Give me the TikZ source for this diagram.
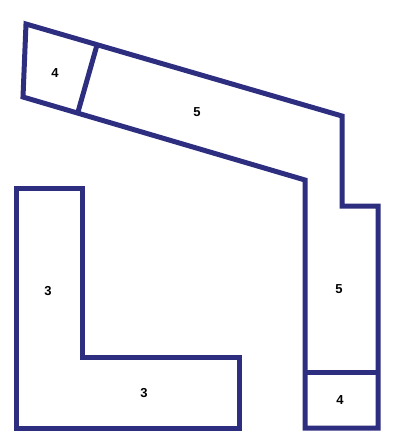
\documentclass[tikz,border=0pt]{standalone}
\usepackage{fontspec}
\setmainfont{Liberation Sans}
\definecolor{navy}{RGB}{46,46,128}
\tikzset{
  wall/.style={draw=navy, line width=5pt, line join=miter},
  num/.style={font=\bfseries\fontsize{13}{15}\selectfont, text=black}
}
\begin{document}
\begin{tikzpicture}[x=1pt,y=-1pt]
    \useasboundingbox (0,0) rectangle (402,448);

    \draw[wall] (26,24) -- (342,116) -- (342,206) -- (378,206) -- (378,428)
        -- (305,428) -- (305,180) -- (23,97) -- cycle;
    \draw[wall] (97,45) -- (78,112);
    \draw[wall] (305,372) -- (378,372);

    \draw[wall] (16,188) -- (82,188) -- (82,357) -- (239,357) -- (239,428)
        -- (16,428) -- cycle;

    \node[num] (a4) at (55,73) {4};
    \node[num] (a5) at (197,112) {5};
    \node[num] (b5) at (339,289) {5};
    \node[num] (b4) at (340,400) {4};
    \node[num] (c3) at (48,291) {3};
    \node[num] (d3) at (144,393) {3};

  \end{tikzpicture}
\end{document}
